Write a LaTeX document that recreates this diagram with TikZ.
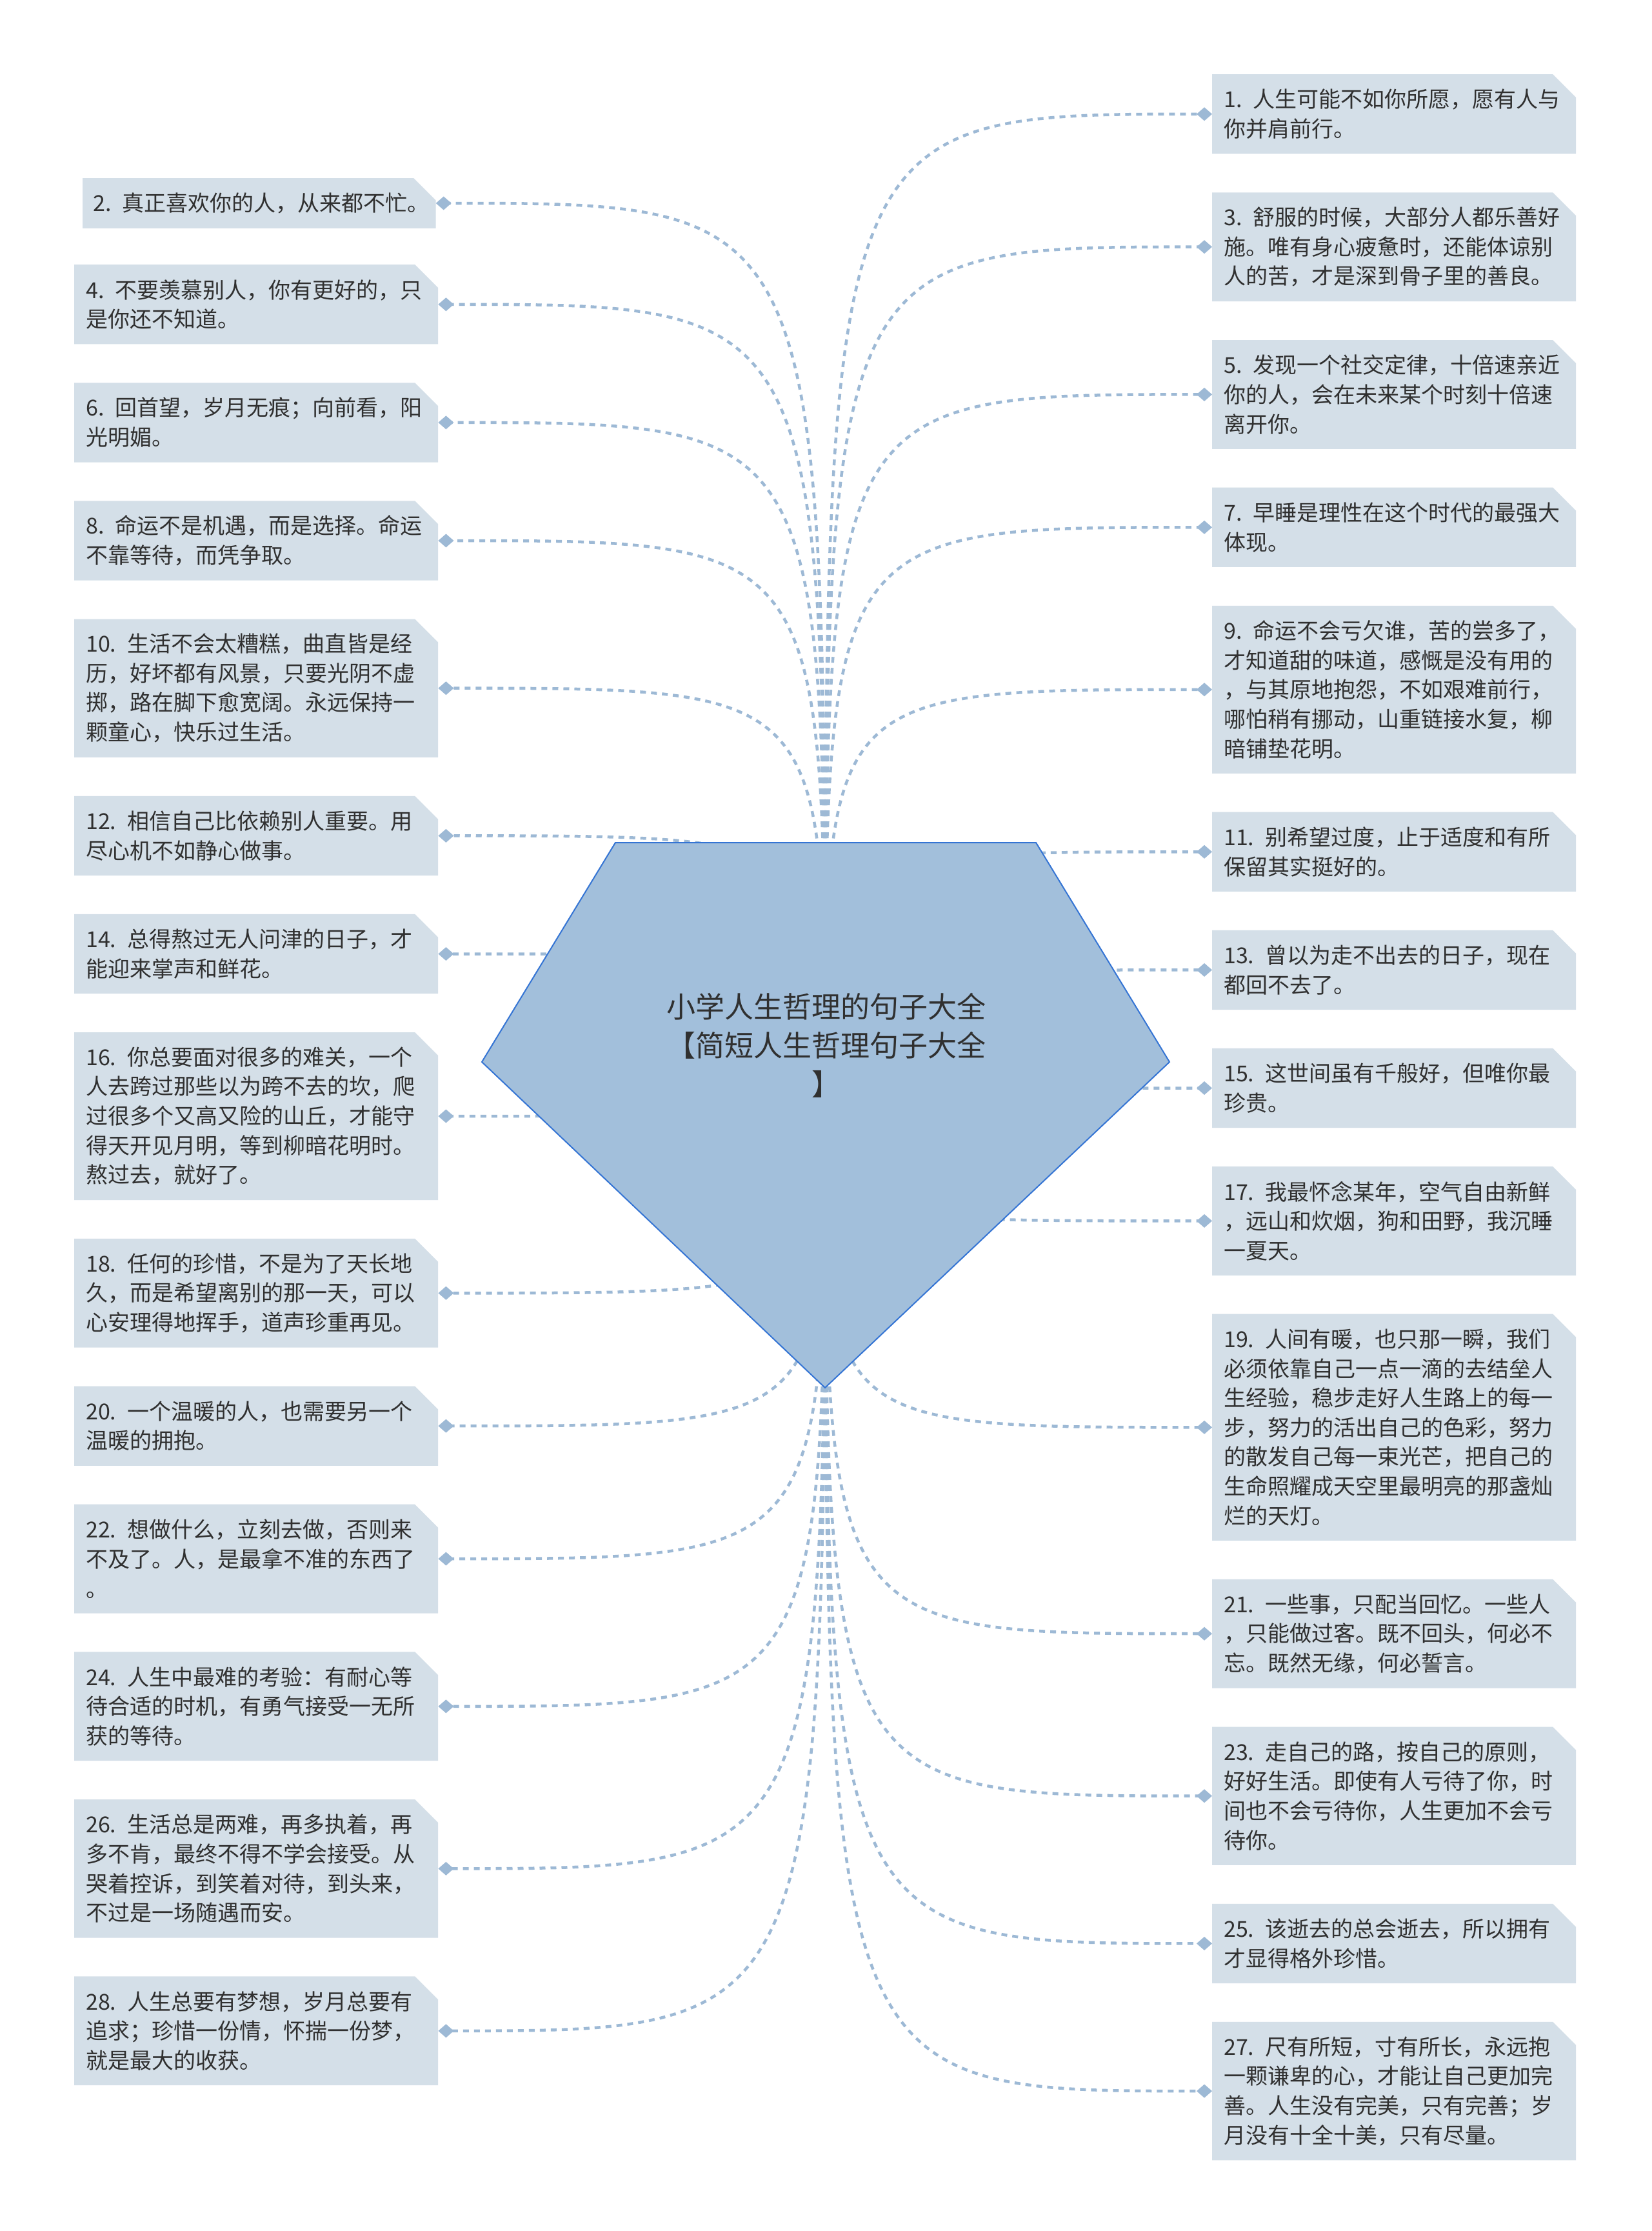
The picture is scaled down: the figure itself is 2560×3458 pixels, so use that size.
\documentclass[tikz,border=0pt]{standalone}
\usepackage{fontspec}
\newfontfamily\cjk{Noto Sans CJK SC}
\usetikzlibrary{shapes.misc,arrows.meta,positioning}

\definecolor{notefill}{HTML}{D4DFE8}
\definecolor{hubfill}{HTML}{A2BFDB}
\definecolor{hubline}{HTML}{3474D4}
\definecolor{linkc}{HTML}{9DB9D5}
\definecolor{textc}{HTML}{303030}

\begin{document}
\begin{tikzpicture}[
    x=1pt, y=-1pt,
    node distance=59.5pt,
    note/.style={chamfered rectangle, chamfered rectangle corners=north east,
      chamfered rectangle xsep=18pt, chamfered rectangle ysep=18pt,
      fill=notefill, inner xsep=0pt, inner ysep=0pt, text width=528pt,
      align=left, text=textc, font=\cjk\fontsize{34pt}{45.6pt}\selectfont},
    nlines/.style={minimum height=#1*45.6pt+32pt},
    link/.style={draw=linkc, line width=4.5pt, dash pattern=on 9pt off 8pt,
      -{Diamond[length=24pt,width=21pt,fill=linkc]}},
    hubshape/.style={fill=hubfill, draw=hubline, line width=2pt},
    title/.style={align=center, text=textc, font=\cjk\fontsize{45pt}{60pt}\selectfont}
  ]
    \path[use as bounding box, fill=white] (0,0) rectangle (2560,3458);

    \node[note, nlines=2, anchor=north west] (r1) at (1879,115) {1. 人生可能不如你所愿，愿有人与\\你并肩前行。};
    \node[note, nlines=3, below=of r1] (r3) {3. 舒服的时候，大部分人都乐善好\\施。唯有身心疲惫时，还能体谅别\\人的苦，才是深到骨子里的善良。};
    \node[note, nlines=3, below=of r3] (r5) {5. 发现一个社交定律，十倍速亲近\\你的人，会在未来某个时刻十倍速\\离开你。};
    \node[note, nlines=2, below=of r5] (r7) {7. 早睡是理性在这个时代的最强大\\体现。};
    \node[note, nlines=5, below=of r7] (r9) {9. 命运不会亏欠谁，苦的尝多了，\\才知道甜的味道，感慨是没有用的\\，与其原地抱怨，不如艰难前行，\\哪怕稍有挪动，山重链接水复，柳\\暗铺垫花明。};
    \node[note, nlines=2, below=of r9] (r11) {11. 别希望过度，止于适度和有所\\保留其实挺好的。};
    \node[note, nlines=2, below=of r11] (r13) {13. 曾以为走不出去的日子，现在\\都回不去了。};
    \node[note, nlines=2, below=of r13] (r15) {15. 这世间虽有千般好，但唯你最\\珍贵。};
    \node[note, nlines=3, below=of r15] (r17) {17. 我最怀念某年，空气自由新鲜\\，远山和炊烟，狗和田野，我沉睡\\一夏天。};
    \node[note, nlines=7, below=of r17] (r19) {19. 人间有暖，也只那一瞬，我们\\必须依靠自己一点一滴的去结垒人\\生经验，稳步走好人生路上的每一\\步，努力的活出自己的色彩，努力\\的散发自己每一束光芒，把自己的\\生命照耀成天空里最明亮的那盏灿\\烂的天灯。};
    \node[note, nlines=3, below=of r19] (r21) {21. 一些事，只配当回忆。一些人\\，只能做过客。既不回头，何必不\\忘。既然无缘，何必誓言。};
    \node[note, nlines=4, below=of r21] (r23) {23. 走自己的路，按自己的原则，\\好好生活。即使有人亏待了你，时\\间也不会亏待你，人生更加不会亏\\待你。};
    \node[note, nlines=2, below=of r23] (r25) {25. 该逝去的总会逝去，所以拥有\\才显得格外珍惜。};
    \node[note, nlines=4, below=of r25] (r27) {27. 尺有所短，寸有所长，永远抱\\一颗谦卑的心，才能让自己更加完\\善。人生没有完美，只有完善；岁\\月没有十全十美，只有尽量。};

    \node[note, nlines=1, text width=515pt, anchor=north west] (l2) at (128,276) {2. 真正喜欢你的人，从来都不忙。};
    \node[note, nlines=2, anchor=north west] (l4) at (115,410) {4. 不要羡慕别人，你有更好的，只\\是你还不知道。};
    \node[note, nlines=2, below=of l4] (l6) {6. 回首望，岁月无痕；向前看，阳\\光明媚。};
    \node[note, nlines=2, below=of l6] (l8) {8. 命运不是机遇，而是选择。命运\\不靠等待，而凭争取。};
    \node[note, nlines=4, below=of l8] (l10) {10. 生活不会太糟糕，曲直皆是经\\历，好坏都有风景，只要光阴不虚\\掷，路在脚下愈宽阔。永远保持一\\颗童心，快乐过生活。};
    \node[note, nlines=2, below=of l10] (l12) {12. 相信自己比依赖别人重要。用\\尽心机不如静心做事。};
    \node[note, nlines=2, below=of l12] (l14) {14. 总得熬过无人问津的日子，才\\能迎来掌声和鲜花。};
    \node[note, nlines=5, below=of l14] (l16) {16. 你总要面对很多的难关，一个\\人去跨过那些以为跨不去的坎，爬\\过很多个又高又险的山丘，才能守\\得天开见月明，等到柳暗花明时。\\熬过去，就好了。};
    \node[note, nlines=3, below=of l16] (l18) {18. 任何的珍惜，不是为了天长地\\久，而是希望离别的那一天，可以\\心安理得地挥手，道声珍重再见。};
    \node[note, nlines=2, below=of l18] (l20) {20. 一个温暖的人，也需要另一个\\温暖的拥抱。};
    \node[note, nlines=3, below=of l20] (l22) {22. 想做什么，立刻去做，否则来\\不及了。人，是最拿不准的东西了\\。};
    \node[note, nlines=3, below=of l22] (l24) {24. 人生中最难的考验：有耐心等\\待合适的时机，有勇气接受一无所\\获的等待。};
    \node[note, nlines=4, below=of l24] (l26) {26. 生活总是两难，再多执着，再\\多不肯，最终不得不学会接受。从\\哭着控诉，到笑着对待，到头来，\\不过是一场随遇而安。};
    \node[note, nlines=3, below=of l26] (l28) {28. 人生总要有梦想，岁月总要有\\追求；珍惜一份情，怀揣一份梦，\\就是最大的收获。};

    \coordinate (hub) at (1279,1690);

    \draw[link] (hub) .. controls (hub |- r1.west) .. (r1.west);
    \draw[link] (hub) .. controls (hub |- r3.west) .. (r3.west);
    \draw[link] (hub) .. controls (hub |- r5.west) .. (r5.west);
    \draw[link] (hub) .. controls (hub |- r7.west) .. (r7.west);
    \draw[link] (hub) .. controls (hub |- r9.west) .. (r9.west);
    \draw[link] (hub) .. controls (hub |- r11.west) .. (r11.west);
    \draw[link] (hub) .. controls (hub |- r13.west) .. (r13.west);
    \draw[link] (hub) .. controls (hub |- r15.west) .. (r15.west);
    \draw[link] (hub) .. controls (hub |- r17.west) .. (r17.west);
    \draw[link] (hub) .. controls (hub |- r19.west) .. (r19.west);
    \draw[link] (hub) .. controls (hub |- r21.west) .. (r21.west);
    \draw[link] (hub) .. controls (hub |- r23.west) .. (r23.west);
    \draw[link] (hub) .. controls (hub |- r25.west) .. (r25.west);
    \draw[link] (hub) .. controls (hub |- r27.west) .. (r27.west);

    \draw[link] (hub) .. controls (hub |- l2.east) .. (l2.east);
    \draw[link] (hub) .. controls (hub |- l4.east) .. (l4.east);
    \draw[link] (hub) .. controls (hub |- l6.east) .. (l6.east);
    \draw[link] (hub) .. controls (hub |- l8.east) .. (l8.east);
    \draw[link] (hub) .. controls (hub |- l10.east) .. (l10.east);
    \draw[link] (hub) .. controls (hub |- l12.east) .. (l12.east);
    \draw[link] (hub) .. controls (hub |- l14.east) .. (l14.east);
    \draw[link] (hub) .. controls (hub |- l16.east) .. (l16.east);
    \draw[link] (hub) .. controls (hub |- l18.east) .. (l18.east);
    \draw[link] (hub) .. controls (hub |- l20.east) .. (l20.east);
    \draw[link] (hub) .. controls (hub |- l22.east) .. (l22.east);
    \draw[link] (hub) .. controls (hub |- l24.east) .. (l24.east);
    \draw[link] (hub) .. controls (hub |- l26.east) .. (l26.east);
    \draw[link] (hub) .. controls (hub |- l28.east) .. (l28.east);

    \filldraw[hubshape] (954,1306) -- (1606,1306) -- (1813,1646) -- (1279,2151) -- (747,1646) -- cycle;
    \node[title] (main) at (1281,1620) {小学人生哲理的句子大全\\【简短人生哲理句子大全\\】};
  \end{tikzpicture}
\end{document}
